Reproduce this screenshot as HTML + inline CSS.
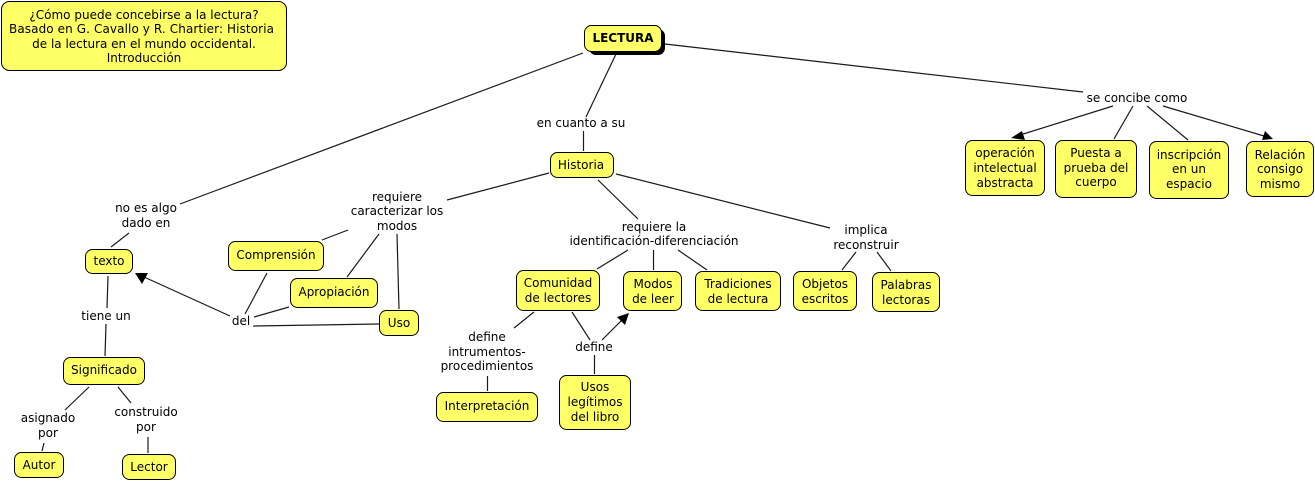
<!DOCTYPE html>
<html><head><meta charset="utf-8">
<style>
html,body{margin:0;padding:0;background:#fff;width:1315px;height:481px;overflow:hidden}
svg{display:block}
text{font-family:"DejaVu Sans","Liberation Sans",sans-serif;font-size:12px;fill:#000;text-anchor:middle}
.n{fill:#ffff66;stroke:#000;stroke-width:1}
line{stroke:#1a1a1a;stroke-width:1.2}
</style></head><body>
<svg width="1315" height="481" viewBox="0 0 1315 481" xmlns="http://www.w3.org/2000/svg">
<g>
<line x1="583" y1="53" x2="180" y2="204"/>
<line x1="616" y1="54" x2="586" y2="117"/>
<line x1="583.500" y1="131" x2="583.500" y2="151"/>
<line x1="665" y1="44" x2="1083" y2="92"/>
<line x1="1113" y1="106" x2="1020" y2="135"/>
<line x1="1133" y1="106" x2="1114" y2="139"/>
<line x1="1147" y1="106" x2="1188" y2="140"/>
<line x1="1163" y1="106" x2="1264" y2="136"/>
<line x1="549" y1="173" x2="447" y2="200"/>
<line x1="598" y1="180" x2="638" y2="219"/>
<line x1="616" y1="174" x2="830" y2="228"/>
<line x1="348" y1="230" x2="322" y2="240"/>
<line x1="379" y1="234" x2="347" y2="277"/>
<line x1="397" y1="234" x2="399" y2="309"/>
<line x1="267" y1="273" x2="245" y2="314"/>
<line x1="289" y1="307" x2="254" y2="317"/>
<line x1="379" y1="324" x2="253" y2="326"/>
<line x1="230" y1="316" x2="144" y2="277"/>
<line x1="129" y1="233" x2="111" y2="247"/>
<line x1="108" y1="276" x2="107" y2="308"/>
<line x1="106" y1="324" x2="105" y2="356"/>
<line x1="89" y1="387" x2="65" y2="410"/>
<line x1="118" y1="387" x2="131" y2="403"/>
<line x1="44" y1="443" x2="42" y2="451"/>
<line x1="148" y1="437" x2="148" y2="453"/>
<line x1="628" y1="250" x2="597" y2="269"/>
<line x1="653.500" y1="250" x2="653.500" y2="270"/>
<line x1="678" y1="250" x2="707" y2="270"/>
<line x1="856" y1="252" x2="842" y2="270"/>
<line x1="877" y1="252" x2="891" y2="271"/>
<line x1="534" y1="312" x2="514" y2="328"/>
<line x1="487.500" y1="376" x2="487.500" y2="391"/>
<line x1="572" y1="312" x2="590" y2="340"/>
<line x1="602" y1="340" x2="622" y2="320"/>
<line x1="594.500" y1="355" x2="594.500" y2="374"/>
<polygon points="135,273 148,273 142,284" fill="#000"/>
<polygon points="629,313 625,325 617,317" fill="#000"/>
<polygon points="1011,138 1022,131 1025,140" fill="#000"/>
<polygon points="1273,139 1262,140 1265,131" fill="#000"/>
</g>
<rect class="n" x="1.5" y="1.5" width="285" height="69" rx="8"/>
<rect x="589" y="29" width="76" height="26" rx="7" fill="#000"/>
<rect class="n" x="584.5" y="25.5" width="77" height="26" rx="7"/>
<rect class="n" x="550.5" y="152.5" width="63" height="25" rx="7"/>
<rect class="n" x="85.500" y="249.500" width="47" height="24" rx="7"/>
<rect class="n" x="228.500" y="241.500" width="95" height="29" rx="7"/>
<rect class="n" x="290.500" y="278.500" width="87" height="29" rx="7"/>
<rect class="n" x="379.500" y="310.500" width="39" height="25" rx="7"/>
<rect class="n" x="63.500" y="357.500" width="81" height="27" rx="7"/>
<rect class="n" x="14.500" y="452.500" width="49" height="25" rx="7"/>
<rect class="n" x="122.500" y="454.500" width="53" height="25" rx="7"/>
<rect class="n" x="516.500" y="270.500" width="83" height="40" rx="7"/>
<rect class="n" x="623.500" y="271.500" width="58" height="39" rx="7"/>
<rect class="n" x="695.500" y="271.500" width="85" height="39" rx="7"/>
<rect class="n" x="793.500" y="271.500" width="63" height="39" rx="7"/>
<rect class="n" x="872.500" y="272.500" width="67" height="39" rx="7"/>
<rect class="n" x="436.500" y="392.500" width="101" height="29" rx="7"/>
<rect class="n" x="559.500" y="375.500" width="71" height="54" rx="7"/>
<rect class="n" x="965.500" y="140.500" width="79" height="55" rx="7"/>
<rect class="n" x="1055.500" y="140.500" width="81" height="57" rx="7"/>
<rect class="n" x="1149.500" y="141.500" width="79" height="57" rx="7"/>
<rect class="n" x="1246.500" y="141.500" width="67" height="55" rx="7"/>

<text x="144" y="19">¿Cómo puede concebirse a la lectura?</text>
<text x="141.500" y="33" textLength="265">Basado en G. Cavallo y R. Chartier: Historia</text>
<text x="144" y="48">de la lectura en el mundo occidental.</text>
<text x="144" y="62">Introducción</text>
<text x="623" y="42" style="font-weight:bold">LECTURA</text>
<text x="581" y="127">en cuanto a su</text>
<text x="581" y="169">Historia</text>
<text x="1137" y="102">se concibe como</text>
<text x="146" y="212">no es algo</text>
<text x="146" y="227">dado en</text>
<text x="397" y="201">requiere</text>
<text x="397" y="215">caracterizar los</text>
<text x="397" y="230">modos</text>
<text x="654" y="231">requiere la</text>
<text x="654" y="245">identificación-diferenciación</text>
<text x="866" y="234">implica</text>
<text x="866" y="249">reconstruir</text>
<text x="109" y="265">texto</text>
<text x="276" y="259">Comprensión</text>
<text x="334" y="296">Apropiación</text>
<text x="399" y="327">Uso</text>
<text x="241" y="325">del</text>
<text x="106" y="320">tiene un</text>
<text x="104" y="374">Significado</text>
<text x="48" y="422">asignado</text>
<text x="48" y="437">por</text>
<text x="146" y="416">construido</text>
<text x="146" y="431">por</text>
<text x="39" y="469">Autor</text>
<text x="149" y="471">Lector</text>
<text x="558" y="287">Comunidad</text>
<text x="558" y="302">de lectores</text>
<text x="653" y="288">Modos</text>
<text x="653" y="303">de leer</text>
<text x="738" y="288">Tradiciones</text>
<text x="738" y="303">de lectura</text>
<text x="825" y="288">Objetos</text>
<text x="825" y="303">escritos</text>
<text x="906" y="289">Palabras</text>
<text x="906" y="304">lectoras</text>
<text x="487" y="341">define</text>
<text x="487" y="356">intrumentos-</text>
<text x="487" y="370">procedimientos</text>
<text x="594" y="351">define</text>
<text x="595" y="391">Usos</text>
<text x="595" y="406">legítimos</text>
<text x="595" y="421">del libro</text>
<text x="487" y="410">Interpretación</text>
<text x="1005" y="157">operación</text>
<text x="1005" y="172">intelectual</text>
<text x="1005" y="187">abstracta</text>
<text x="1096" y="157">Puesta a</text>
<text x="1096" y="172">prueba del</text>
<text x="1096" y="186">cuerpo</text>
<text x="1189" y="159">inscripción</text>
<text x="1189" y="173">en un</text>
<text x="1189" y="188">espacio</text>
<text x="1280" y="159">Relación</text>
<text x="1280" y="173">consigo</text>
<text x="1280" y="188">mismo</text>
</svg>
</body></html>
